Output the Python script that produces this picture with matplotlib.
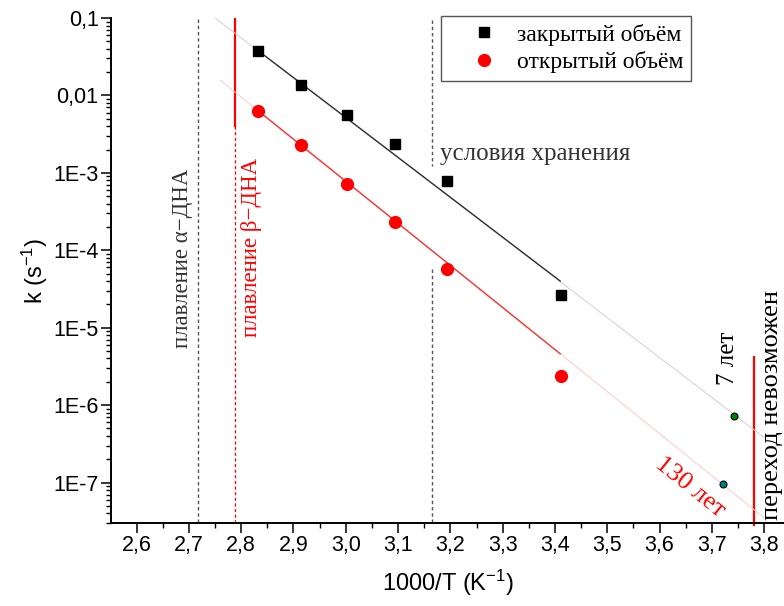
import matplotlib
matplotlib.use("Agg")
import matplotlib.pyplot as plt
from matplotlib.ticker import FixedLocator, LogLocator, MultipleLocator, NullFormatter

# 1000/T for 80, 70, 60, 50, 40, 20 °C
inv_T = [2.832, 2.914, 3.002, 3.095, 3.193, 3.411]
k_closed = [0.0378, 0.0136, 5.61e-3, 2.39e-3, 7.85e-4, 2.63e-5]
k_open = [6.32e-3, 2.28e-3, 7.28e-4, 2.30e-4, 5.78e-5, 2.36e-6]

# linear fits (ln k vs 1/T), solid over the data, faint extrapolation
fit_x = [2.8325, 3.41]
fit_closed = [0.0378, 4.0e-5]
fit_open = [6.32e-3, 4.6e-6]
ext_closed_x = [2.750, 3.805]
ext_closed = [0.100, 3.6e-7]
ext_open_x = [2.760, 3.800]
ext_open = [1.57e-2, 3.5e-8]

# extrapolated points at storage temperature
pt_7y = (3.743, 7.3e-7)
pt_130y = (3.722, 9.5e-8)

x_alpha = 2.717    # плавление α-ДНА
x_beta = 2.788     # плавление β-ДНА
x_store = 3.165    # условия хранения
x_limit = 3.780    # переход невозможен

xticks = [2.6, 2.7, 2.8, 2.9, 3.0, 3.1, 3.2, 3.3, 3.4, 3.5, 3.6, 3.7, 3.8]
xticklabels = ["2,6", "2,7", "2,8", "2,9", "3,0", "3,1", "3,2", "3,3", "3,4", "3,5", "3,6", "3,7", "3,8"]
yticks = [1e-1, 1e-2, 1e-3, 1e-4, 1e-5, 1e-6, 1e-7]
yticklabels = ["0,1", "0,01", "1E-3", "1E-4", "1E-5", "1E-6", "1E-7"]

SERIF = "Liberation Serif"
SANS = "Liberation Sans"
plt.rcParams["mathtext.fontset"] = "custom"
plt.rcParams["mathtext.rm"] = SANS
plt.rcParams["mathtext.it"] = SANS + ":italic"
plt.rcParams["mathtext.default"] = "rm"

fig = plt.figure(figsize=(7.84, 6.06), dpi=100)
ax = fig.add_axes([111 / 784, 83 / 606, 673 / 784, 505 / 606])
ax.set_yscale("log")
ax.set_xlim(2.551, 3.838)
ax.set_ylim(3.0e-8, 0.1)

# vertical markers
dash = (0, (2.5, 2))
ax.plot([x_alpha, x_alpha], [0.097, 3e-8], color="#555555", lw=1.0, ls=dash)
ax.plot([x_beta, x_beta], [0.097, 4.05e-3], color="red", lw=1.6)
ax.plot([x_beta, x_beta], [4.05e-3, 3e-8], color="red", lw=0.9, ls=dash)
ax.plot([x_store, x_store], [0.095, 1.22e-3], color="#555555", lw=1.0, ls=dash)
ax.plot([x_store, x_store], [5.67e-5, 3e-8], color="#555555", lw=1.0, ls=dash)
ax.plot([x_limit, x_limit], [4.15e-6, 2.8e-8], color="red", lw=1.6, clip_on=False)

# fits
ax.plot(ext_closed_x, ext_closed, color="#d0d0d0", lw=0.7)
ax.plot(ext_open_x, ext_open, color="#ffc8c8", lw=0.7)
ax.plot(fit_x, fit_closed, color="#303030", lw=1.0)
ax.plot(fit_x, fit_open, color="#ff3030", lw=1.0)

ax.plot(inv_T, k_closed, ls="none", marker="s", ms=7.5, color="black", label="закрытый объём")
ax.plot(inv_T, k_open, ls="none", marker="o", ms=8.5, color="red", label="открытый объём")
ax.plot(*pt_7y, ls="none", marker="o", ms=5, mfc="#008000", mec="black", mew=0.8)
ax.plot(*pt_130y, ls="none", marker="o", ms=5, mfc="#007f7f", mec="black", mew=0.8)

# annotations
ax.text(2.6885, 7.85e-5, "плавление α−ДНА", rotation=90, ha="center", va="center",
        color="#333333", fontsize=16.5, family=[SERIF, "DejaVu Serif"])
ax.text(2.820, 1.09e-4, "плавление β−ДНА", rotation=90, ha="center", va="center",
        color="red", fontsize=16.5, family=[SERIF, "DejaVu Serif"])
ax.text(3.180, 1.74e-3, "условия хранения", ha="left", va="center",
        color="#333333", fontsize=18, family=SERIF)
ax.text(3.7306, 4.0e-6, "7 лет", rotation=90, ha="center", va="center",
        color="black", fontsize=18, family=SERIF)
ax.text(3.658, 8.8e-8, "130 лет", rotation=-38.8, ha="center", va="center",
        color="red", fontsize=19, family=SERIF, rotation_mode="anchor")
ax.text(3.815, 1.0e-6, "переход невозможен", rotation=90, ha="center", va="center",
        color="black", fontsize=19, family=SERIF, clip_on=False)

# axes styling (Origin-like: left + bottom only)
for s in ("top", "right"):
    ax.spines[s].set_visible(False)
for s in ("left", "bottom"):
    ax.spines[s].set_linewidth(1.4)

ax.xaxis.set_major_locator(FixedLocator(xticks))
ax.set_xticklabels(xticklabels, fontsize=15.5, family=SANS)
ax.xaxis.set_minor_locator(MultipleLocator(0.05))
ax.yaxis.set_major_locator(FixedLocator(yticks))
ax.set_yticklabels(yticklabels, fontsize=15.5, family=SANS)
ax.yaxis.set_minor_locator(LogLocator(base=10, subs=range(2, 10), numticks=20))
ax.yaxis.set_minor_formatter(NullFormatter())
ax.tick_params(which="major", direction="out", length=7, width=1.1, pad=2)
ax.tick_params(which="minor", direction="out", length=3.8, width=1.0)

ax.set_xlabel("1000/T (K$^{-1}$)", fontsize=17, family=SANS, labelpad=8)
ax.set_ylabel("k (s$^{-1}$)", fontsize=17, family=SANS, labelpad=2)

leg = ax.legend(loc="upper left", bbox_to_anchor=(0.491, 1.003), frameon=True, fancybox=False,
                edgecolor="#555555", framealpha=1, prop={"family": SERIF, "size": 17},
                handletextpad=-0.1, borderpad=0.3, labelspacing=0.25, handlelength=3.0,
                borderaxespad=0)
leg.get_frame().set_linewidth(1.0)

fig.savefig("out.png", dpi=100)
